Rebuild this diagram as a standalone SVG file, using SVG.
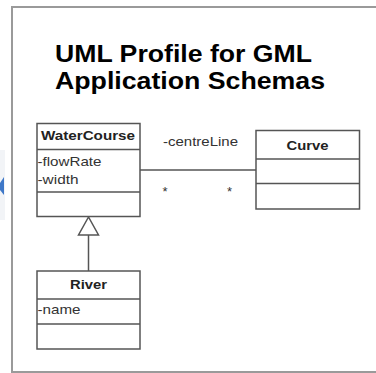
<svg xmlns="http://www.w3.org/2000/svg" width="376" height="373" viewBox="0 0 376 373">
<style>
.frame{fill:#fff;stroke:#9a9a9a;stroke-width:2}
.box{fill:#fff;stroke:#555;stroke-width:1.5}
.div{stroke:#555;stroke-width:1.5}
.conn{fill:none;stroke:#555;stroke-width:1.5}
.title{font-family:"Liberation Sans",Arial,sans-serif;font-weight:bold;font-size:23px;fill:#000}
.cls{font-family:"Liberation Sans",Arial,sans-serif;font-weight:bold;font-size:13px;fill:#222}
.attr{font-family:"Liberation Sans",Arial,sans-serif;font-size:13px;fill:#333}
</style>
<rect width="376" height="373" fill="#fff"/>
<rect x="0" y="150" width="5" height="70" fill="#f2f4f7"/>
<path d="M4,177 L0,183 L0,190 L4,195 Z" fill="#3f78c8"/>
<rect class="frame" x="12" y="7" width="380" height="365"/>
<g id="title">
<text class="title" x="55" y="62" textLength="257" lengthAdjust="spacingAndGlyphs">UML Profile for GML</text>
<text class="title" x="55" y="88.5" textLength="270" lengthAdjust="spacingAndGlyphs">Application Schemas</text>
</g>
<g id="connectors">
<line class="conn" x1="140" y1="170" x2="256" y2="170"/>
<line class="conn" x1="88.5" y1="235" x2="88.5" y2="271"/>
<polygon class="box" points="88.5,217 78.5,235 98.5,235"/>
<text class="attr" x="200.5" y="146" text-anchor="middle" textLength="75" lengthAdjust="spacingAndGlyphs">-centreLine</text>
<text class="attr" x="165" y="196" text-anchor="middle">*</text>
<text class="attr" x="229.5" y="196" text-anchor="middle">*</text>
</g>
<g id="WaterCourse">
<rect class="box" x="37" y="123.5" width="103" height="93"/>
<line class="div" x1="37" y1="149.5" x2="140" y2="149.5"/>
<line class="div" x1="37" y1="192" x2="140" y2="192"/>
<text class="cls" x="41" y="139.5" textLength="94" lengthAdjust="spacingAndGlyphs">WaterCourse</text>
<text class="attr" x="37.5" y="166" textLength="64" lengthAdjust="spacingAndGlyphs">-flowRate</text>
<text class="attr" x="37.5" y="184" textLength="41" lengthAdjust="spacingAndGlyphs">-width</text>
</g>
<g id="Curve">
<rect class="box" x="256" y="130.5" width="103.5" height="78.5"/>
<line class="div" x1="256" y1="159" x2="359.5" y2="159"/>
<line class="div" x1="256" y1="183.5" x2="359.5" y2="183.5"/>
<text class="cls" x="307.5" y="149.5" text-anchor="middle" textLength="42" lengthAdjust="spacingAndGlyphs">Curve</text>
</g>
<g id="River">
<rect class="box" x="37" y="271" width="103" height="78"/>
<line class="div" x1="37" y1="299" x2="140" y2="299"/>
<line class="div" x1="37" y1="324" x2="140" y2="324"/>
<text class="cls" x="88.5" y="289" text-anchor="middle" textLength="37" lengthAdjust="spacingAndGlyphs">River</text>
<text class="attr" x="37.5" y="314" textLength="43" lengthAdjust="spacingAndGlyphs">-name</text>
</g>
</svg>
